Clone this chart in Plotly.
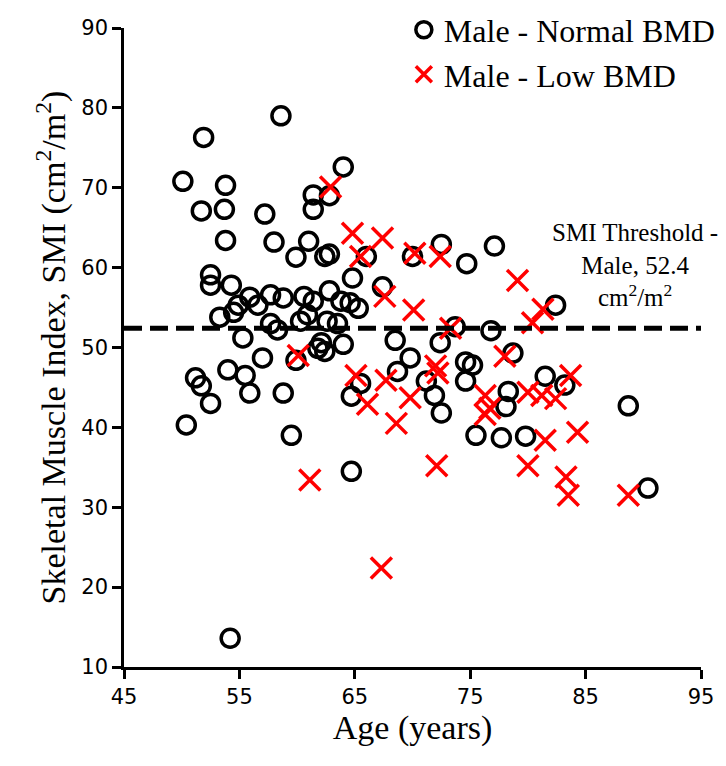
import plotly.graph_objects as go

# Male - Normal BMD (age, SMI)
normal_age = [50.1, 51.9, 58.6, 53.8, 51.7, 53.7, 53.8, 57.2, 58.0, 61.0, 59.9, 62.4, 62.8, 64.0,
              61.4, 61.4, 62.8, 64.8, 52.5, 52.5, 54.3, 66.0, 70.0, 72.5, 74.7, 77.1, 82.4, 67.4,
              54.9, 54.5, 53.3, 55.9, 56.6, 57.7, 58.8, 60.6, 57.7, 60.3, 60.9, 62.8, 62.6, 63.5,
              63.8, 64.6, 62.1, 64.0, 65.3, 55.3, 58.3, 61.4,
              57.0, 54.0, 55.5, 51.2, 51.7, 52.5, 55.9, 58.8, 50.4, 59.5, 59.9, 64.7, 54.2, 61.8,
              62.4, 65.5, 64.7, 68.7, 69.8, 68.5, 71.2, 71.9, 72.5, 72.4, 73.7, 74.6, 75.2, 74.6,
              76.8, 78.7, 78.3, 78.1, 75.5, 77.7, 79.8, 81.5, 83.2, 88.7, 90.4]
normal_smi = [70.8, 76.3, 79.0, 70.3, 67.1, 67.3, 63.4, 66.7, 63.2, 63.3, 61.3, 61.4, 61.7, 72.6,
              69.1, 67.3, 69.0, 58.7, 59.1, 57.8, 57.8, 61.4, 61.4, 62.9, 60.5, 62.7, 55.3, 57.6,
              55.3, 54.4, 53.8, 56.3, 55.3, 56.6, 56.2, 56.4, 53.0, 53.3, 54.1, 57.1, 53.3, 53.0,
              55.8, 55.6, 50.6, 50.4, 54.9, 51.2, 52.2, 55.8,
              48.7, 47.2, 46.5, 46.2, 45.2, 43.0, 44.3, 44.3, 40.3, 39.0, 48.4, 34.5, 13.6, 49.9,
              49.5, 45.5, 43.9, 47.0, 48.7, 50.9, 45.8, 44.0, 41.8, 50.6, 52.6, 48.2, 47.8, 45.8,
              52.1, 49.3, 44.5, 42.6, 39.0, 38.7, 38.9, 46.4, 45.3, 42.7, 32.4]

# Male - Low BMD (age, SMI)
low_age = [62.9, 64.8, 67.4, 65.5, 70.2, 72.4, 79.1, 81.3, 80.4, 67.6, 70.1, 73.3, 60.1, 61.1,
           72.1, 67.3, 65.1, 66.1, 67.7, 68.6, 69.8, 72.0, 72.2, 78.0, 76.3, 76.7, 76.3, 80.0,
           81.2, 82.4, 83.7, 81.5, 84.3, 80.0, 83.3, 83.5, 88.7]
low_smi = [70.1, 64.3, 63.7, 61.4, 61.8, 61.4, 58.4, 54.8, 53.1, 56.4, 54.7, 52.4, 49.0, 33.4,
           35.2, 22.4, 46.5, 42.9, 45.9, 40.5, 43.7, 47.7, 46.8, 48.9, 44.0, 42.4, 41.6, 44.4,
           44.0, 43.6, 46.5, 38.4, 39.4, 35.2, 33.8, 31.5, 31.5]

threshold = 52.4
x_ticks = [45, 55, 65, 75, 85, 95]
y_ticks = [10, 20, 30, 40, 50, 60, 70, 80, 90]

serif = "Liberation Serif, Times New Roman, serif"

fig = go.Figure()
fig.add_trace(go.Scatter(
    x=normal_age, y=normal_smi, mode="markers", name="Male - Normal BMD",
    marker=dict(symbol="circle-open", size=18, color="black", line=dict(width=3.5, color="black")),
))
fig.add_trace(go.Scatter(
    x=low_age, y=low_smi, mode="markers", name="Male - Low BMD",
    marker=dict(symbol="x-thin-open", size=21, color="#ff0000", line=dict(width=3.5, color="#ff0000")),
))

fig.add_shape(type="line", xref="x", yref="y", x0=x_ticks[0], x1=x_ticks[-1], y0=threshold, y1=threshold,
              line=dict(color="black", width=5, dash="18px,8px"), layer="above")

fig.add_annotation(x=89.3, y=60.3, xref="x", yref="y", showarrow=False,
                   text="SMI Threshold -<br>Male, 52.4<br>cm<sup>2</sup>/m<sup>2</sup>",
                   font=dict(family=serif, size=25, color="black"), align="center")

fig.update_layout(
    width=726, height=766,
    margin=dict(l=116, r=33, t=20, b=107, autoexpand=False),
    plot_bgcolor="white", paper_bgcolor="white",
    showlegend=True,
    legend=dict(x=0.485, y=1.04, xanchor="left", yanchor="top", font=dict(family=serif, size=32, color="black"),
                bgcolor="rgba(0,0,0,0)", tracegroupgap=0, itemwidth=30),
)
fig.update_xaxes(range=[45, 95], tickvals=x_ticks, showgrid=False, zeroline=False,
                 showline=True, linecolor="black", linewidth=2.5, ticks="outside", ticklen=9,
                 tickwidth=2.5, tickcolor="black",
                 tickfont=dict(family="DejaVu Sans", size=21, color="black"),
                 title=dict(text="Age (years)", font=dict(family=serif, size=34, color="black"), standoff=4))
fig.update_yaxes(range=[10, 90], tickvals=y_ticks, showgrid=False, zeroline=False,
                 showline=True, linecolor="black", linewidth=2.5, ticks="outside", ticklen=9,
                 tickwidth=2.5, tickcolor="black",
                 tickfont=dict(family="DejaVu Sans", size=21, color="black"),
                 title=dict(text="Skeletal Muscle Index, SMI (cm<sup>2</sup>/m<sup>2</sup>)",
                            font=dict(family=serif, size=34, color="black"), standoff=6))

fig.write_html("out.html")
